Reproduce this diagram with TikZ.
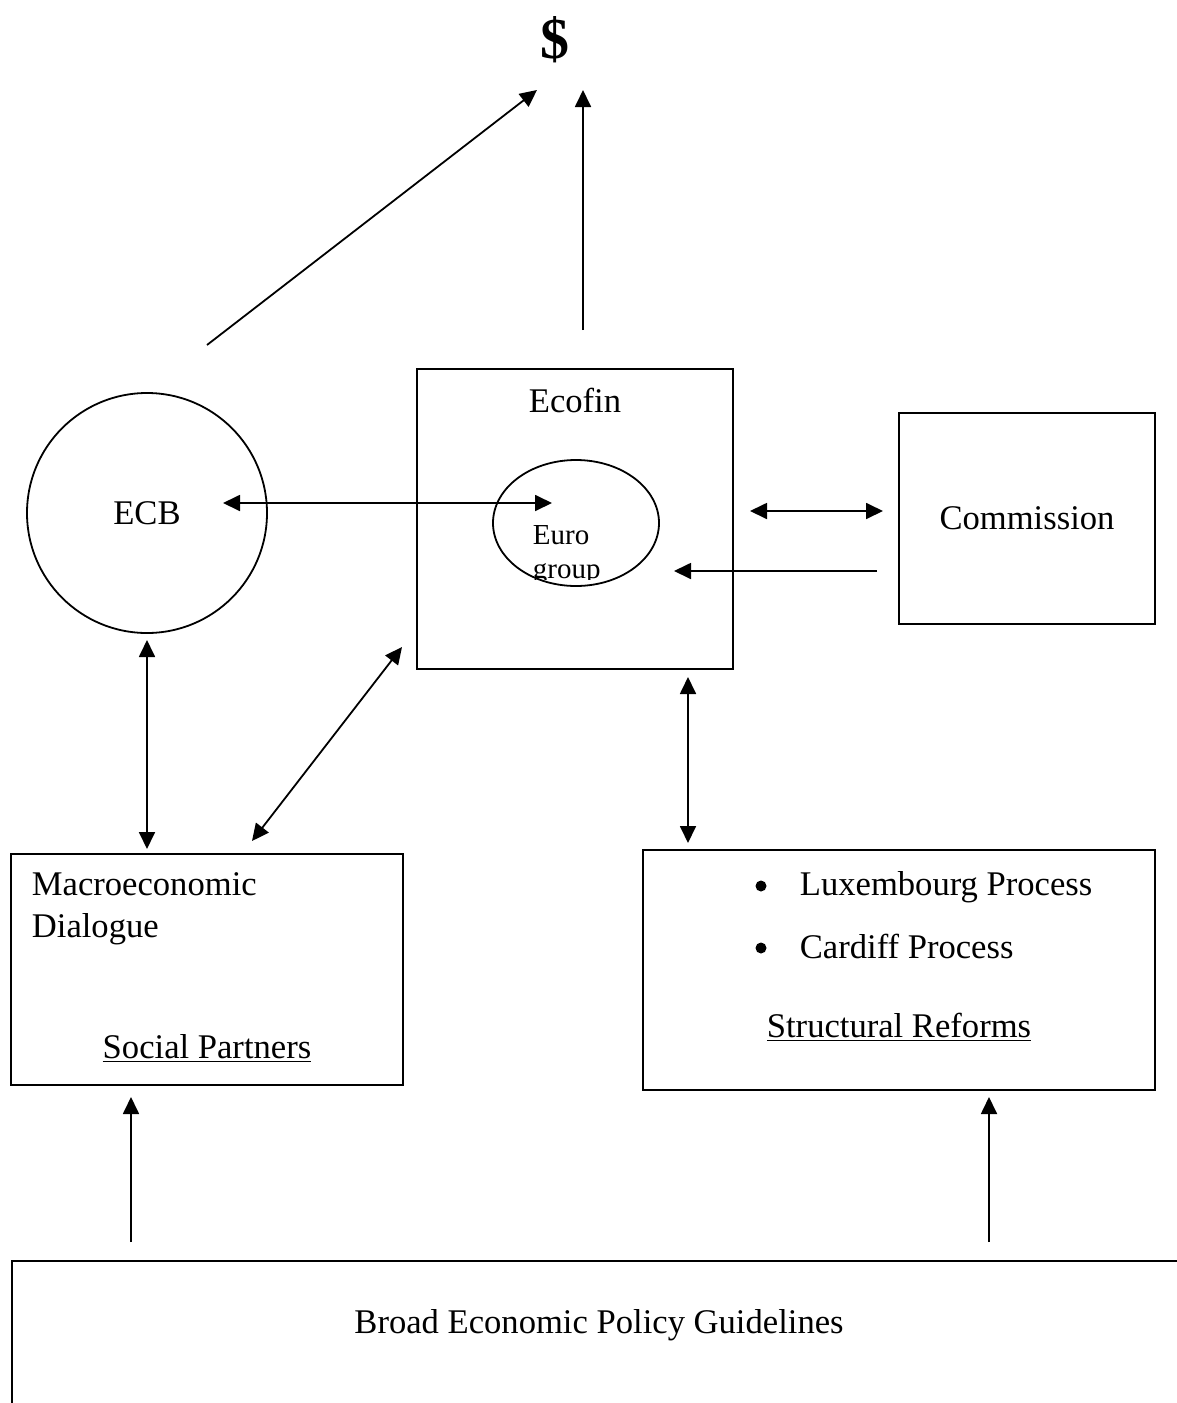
\documentclass[tikz,border=0pt]{standalone}
\usepackage{fontspec}
\setmainfont{Liberation Serif}
\usetikzlibrary{arrows.meta,shapes.geometric}

\begin{document}
\begin{tikzpicture}[x=0.5pt, y=-0.5pt, line width=0.9pt,
        font=\fontsize{17.3}{21}\selectfont,
        box/.style = {draw, rectangle, inner sep=0pt},
        txt/.style = {inner sep=0pt, anchor=base west},
        dot/.style = {circle, fill, inner sep=0pt, minimum size=5.5pt},
        >={Triangle[length=8.5pt, width=8pt]}]
        \useasboundingbox (0,0) rectangle (1177,1403);
        % nodes
        \node (dollar) [font=\fontsize{29}{34}\selectfont\bfseries, inner sep=0pt] at (555,40) {\$};
        \node[draw, circle, inner sep=0pt, minimum size=120pt] (ecb) at (147,513) {ECB};
        \node[box, minimum width=158pt, minimum height=150pt] (ecofin) at (575,519) {};
        \node (ecofintxt) at (575,400) {Ecofin};
        \node[draw, ellipse, inner sep=0pt, minimum width=83pt, minimum height=63pt] (eurogroup) at (576,523) {};
        \begin{scope}
            \clip (480,440) rectangle (700,579);
            \node[txt, font=\fontsize{14.5}{17}\selectfont] (euro) at (532,544) {Euro};
            \node[txt, font=\fontsize{14.5}{17}\selectfont] (group) at (532,578) {group};
        \end{scope}
        \node[box, minimum width=128pt, minimum height=105.5pt] (commission) at (1027,518.5) {Commission};
        \node[box, minimum width=196pt, minimum height=115.5pt] (macro) at (207,969.5) {};
        \node[txt] (macrotxt) at (31,895) {Macroeconomic};
        \node[txt] (dialogue) at (31,937) {Dialogue};
        \node[inner sep=0pt, anchor=base] (social) at (207,1058) {\underline{Social Partners}};
        \node[box, minimum width=256pt, minimum height=120pt] (structural) at (899,970) {};
        \node[dot] (bulletA) at (761,886) {};
        \node[txt] (luxembourg) at (799,895) {Luxembourg Process};
        \node[dot] (bulletB) at (761,948) {};
        \node[txt] (cardiff) at (799,958) {Cardiff Process};
        \node[inner sep=0pt, anchor=base] (reforms) at (899,1037) {\underline{Structural Reforms}};
        \node[box, anchor=north west, minimum width=600pt, minimum height=100pt] (guidelines) at (11,1260) {};
        \node (guidelinestxt) at (599,1325) {Broad Economic Policy Guidelines};
        % connector ends
        \coordinate (ecbUp) at (207,345);
        \coordinate (dollarL) at (537,90);
        \coordinate (ecofinUp) at (583,330);
        \coordinate (dollarR) at (583,90);
        \coordinate (ecbR) at (223,503);
        \coordinate (euroL) at (552,503);
        \coordinate (ecofinR) at (750,511);
        \coordinate (commissionL) at (883,511);
        \coordinate (commissionB) at (877,571);
        \coordinate (euroR) at (674,571);
        \coordinate (ecbDown) at (147,640);
        \coordinate (macroUp) at (147,849);
        \coordinate (macroR) at (252,841);
        \coordinate (ecofinL) at (402,647);
        \coordinate (ecofinDown) at (688,677);
        \coordinate (structuralUp) at (688,843);
        \coordinate (guidelinesL) at (131,1242);
        \coordinate (macroDown) at (131,1097);
        \coordinate (guidelinesR) at (989,1242);
        \coordinate (structuralDown) at (989,1097);
        % connectors
        \draw[->] (ecbUp) -- (dollarL);
        \draw[->] (ecofinUp) -- (dollarR);
        \draw[<->] (ecbR) -- (euroL);
        \draw[<->] (ecofinR) -- (commissionL);
        \draw[->] (commissionB) -- (euroR);
        \draw[<->] (ecbDown) -- (macroUp);
        \draw[<->] (macroR) -- (ecofinL);
        \draw[<->] (ecofinDown) -- (structuralUp);
        \draw[->] (guidelinesL) -- (macroDown);
        \draw[->] (guidelinesR) -- (structuralDown);
\end{tikzpicture}
\end{document}
